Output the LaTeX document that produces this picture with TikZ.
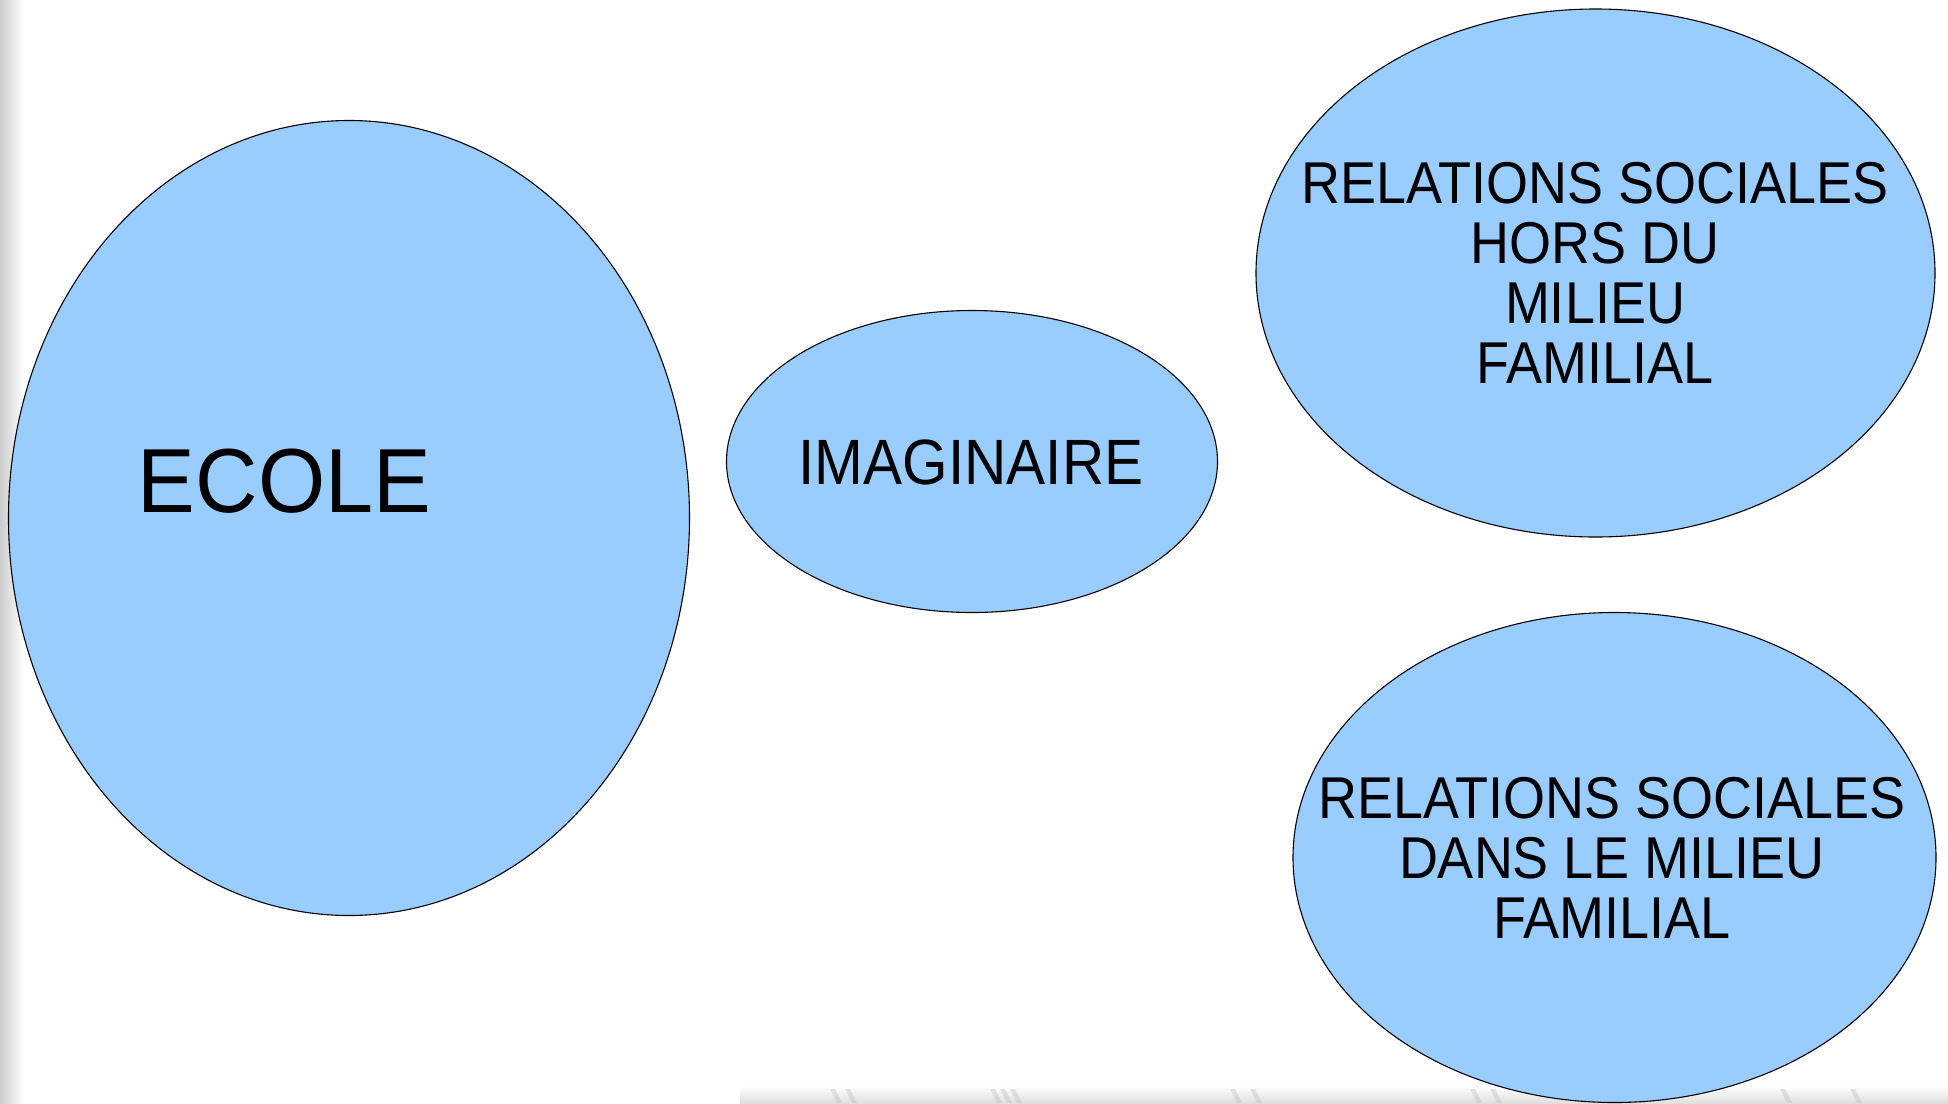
\documentclass[tikz,border=0pt]{standalone}
\usepackage{fontspec}
\setmainfont{Liberation Sans}
\usetikzlibrary{shapes.geometric}
\definecolor{bubble}{HTML}{99CCFF}
\definecolor{streak}{HTML}{B8B8B8}
\tikzset{
  bubble/.style={ellipse, draw=black, line width=1.1pt, fill=bubble, inner sep=0pt},
  lbl/.style={inner sep=0pt, align=center, text=black},
}
\newcommand{\sq}[1]{\scalebox{0.915}[1]{#1}}
\begin{document}
\begin{tikzpicture}[x=1pt, y=-1pt]
  \useasboundingbox (0,0) rectangle (1948,1103);
  % background
  \fill[white] (0,0) rectangle (1948,1103);
  \shade[left color=gray!40, right color=white] (0,0) rectangle (24,1103);
  \shade[top color=white, bottom color=gray!25] (740,1086) rectangle (1948,1103);
  \foreach \x in {830,845,990,1000,1010,1230,1250,1470,1490,1780,1850} {
    \fill[streak, opacity=0.35] (\x,1089) -- (\x+5,1089) -- (\x+12,1103) -- (\x+7,1103) -- cycle;
  }

  % ellipses
  \node[bubble, minimum width=681pt, minimum height=795pt] (ecole) at (349,518) {};
  \node[bubble, minimum width=491pt, minimum height=302pt] (imag) at (972,461.5) {};
  \node[bubble, minimum width=679pt, minimum height=528pt] (hors) at (1595.5,273) {};
  \node[bubble, minimum width=643pt, minimum height=490pt] (dans) at (1614.5,857.5) {};

  % labels
  \node[lbl, font=\fontsize{91}{100}\selectfont] (tecole) at (284.5,481) {\scalebox{0.95}[1]{ECOLE}};
  \node[lbl, font=\fontsize{64}{70}\selectfont] (timag) at (971,462) {\sq{IMAGINAIRE}};
  \node[lbl, font=\fontsize{59}{60}\selectfont] (thors) at (1595,273) {\sq{RELATIONS SOCIALES}\\\sq{HORS DU}\\\sq{MILIEU}\\\sq{FAMILIAL}};
  \node[lbl, font=\fontsize{59}{60}\selectfont] (tdans) at (1612,858) {\sq{RELATIONS SOCIALES}\\\sq{DANS LE MILIEU}\\\sq{FAMILIAL}};
\end{tikzpicture}
\end{document}
